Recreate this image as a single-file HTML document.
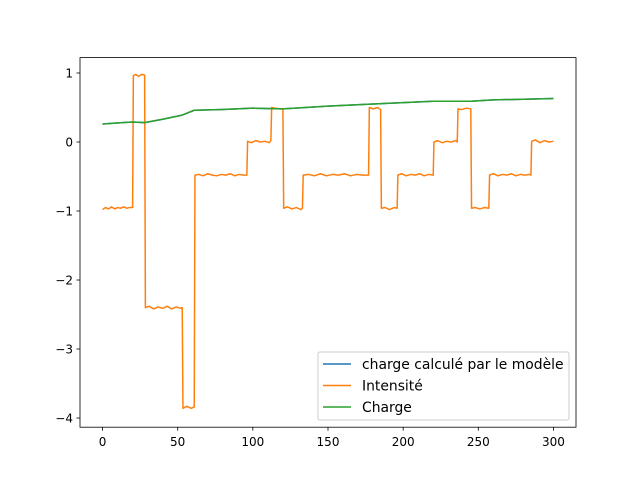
<!DOCTYPE html>
<html><head><meta charset="utf-8"><style>
html,body{margin:0;padding:0;background:#fff}
svg{display:block;font-family:"DejaVu Sans","Liberation Sans",sans-serif}
</style></head><body>
<svg id="chart" width="640" height="480">
<rect x="0" y="0" width="640" height="480" fill="#fff"/>
<g id="plot"></g>
</svg>
<script>
const intensityX = [0,2,4,6,8,10,12,14,16,18,20,20.5,22,24,26,28,28.5,31,34,37,40,43,46,49,52,53,53.5,56,59,61,61.5,64,67,70,73,76,79,82,85,88,91,94,96,96.5,99,102,105,108,111,112,112.5,115,118,120,120.5,123,126,129,132,133,133.5,137,141,145,149,153,157,161,165,169,173,177,177.5,180,183,185,185.5,188,191,194,196,196.5,199,202,205,208,211,214,217,220,220.5,223,226,229,232,235,236,236.5,239,242,245,245.5,248,251,254,257,257.5,260,263,266,269,272,275,278,281,284,285,285.5,288,291,294,297,300];
const intensityY = [-0.98,-0.95,-0.97,-0.94,-0.97,-0.95,-0.96,-0.94,-0.96,-0.95,-0.95,0.96,0.98,0.95,0.98,0.97,-2.4,-2.38,-2.42,-2.39,-2.41,-2.38,-2.42,-2.39,-2.41,-2.4,-3.86,-3.83,-3.86,-3.84,-0.48,-0.47,-0.49,-0.46,-0.48,-0.49,-0.47,-0.48,-0.46,-0.49,-0.47,-0.48,-0.48,0.01,-0.01,0.02,0.0,0.01,-0.01,0.02,0.5,0.49,0.48,0.48,-0.96,-0.94,-0.97,-0.95,-0.98,-0.96,-0.48,-0.47,-0.49,-0.46,-0.49,-0.47,-0.48,-0.46,-0.49,-0.47,-0.48,-0.48,0.5,0.48,0.5,0.47,-0.96,-0.95,-0.98,-0.95,-0.96,-0.48,-0.46,-0.49,-0.47,-0.48,-0.46,-0.49,-0.47,-0.48,0.0,0.02,-0.01,0.01,0.0,0.02,0.0,0.48,0.47,0.49,0.48,-0.96,-0.95,-0.97,-0.95,-0.96,-0.48,-0.46,-0.49,-0.47,-0.48,-0.46,-0.49,-0.47,-0.48,-0.47,-0.48,0.01,0.03,-0.01,0.02,0.0,0.01];
const chargeX = [0,20,28,40,53,61,80,100,120,150,180,200,220,245,260,280,300];
const chargeY = [0.26,0.29,0.28,0.33,0.39,0.46,0.47,0.49,0.48,0.52,0.55,0.57,0.59,0.59,0.61,0.62,0.63];
const xTicks = [0,50,100,150,200,250,300];
const yTicks = [1,0,-1,-2,-3,-4];
const yTickLabels = ["1","0","\u22121","\u22122","\u22123","\u22124"];
const legendLabels = ["charge calculé par le modèle","Intensité","Charge"];
const legendColors = ["#1f77b4","#ff7f0e","#2ca02c"];

const L=80,R=576,T=57.6,B=427.2;
const xMin=-15,xMax=315,yMin=-4.133,yMax=1.223;
const sx=v=>L+(v-xMin)/(xMax-xMin)*(R-L);
const sy=v=>B-(v-yMin)/(yMax-yMin)*(B-T);
const NS="http://www.w3.org/2000/svg";
const g=document.getElementById('plot');
function mk(t,a,txt){const e=document.createElementNS(NS,t);for(const k in a)e.setAttribute(k,a[k]);if(txt!==undefined)e.textContent=txt;g.appendChild(e);return e;}
function line(xs,ys,c,name){
  const d=xs.map((x,i)=>(i?'L':'M')+sx(x).toFixed(2)+','+sy(ys[i]).toFixed(2)).join('');
  const p=mk('path',{d:d,fill:'none',stroke:c,'stroke-width':1.5,'stroke-linejoin':'round'});
  
  
}
line(chargeX,chargeY,legendColors[0],'model-charge-line');
line(intensityX,intensityY,legendColors[1],'intensity-line');
line(chargeX,chargeY,legendColors[2],'charge-line');
const fr=mk('rect',{x:L,y:T,width:R-L,height:B-T,fill:'none',stroke:'#000','stroke-width':0.8});


xTicks.forEach(v=>{
  const x=sx(v);
  const t=mk('line',{x1:x,x2:x,y1:B,y2:B+3.5,stroke:'#000','stroke-width':0.8});
  
  
  const l=mk('text',{x:x,y:B+19,'text-anchor':'middle','font-size':12},String(v));
  
  
});
yTicks.forEach((v,i)=>{
  const y=sy(v);
  const t=mk('line',{x1:L-3.5,x2:L,y1:y,y2:y,stroke:'#000','stroke-width':0.8});
  
  
  const l=mk('text',{x:L-7,y:y+4.3,'text-anchor':'end','font-size':12},yTickLabels[i]);
  
  
});
const lb=mk('rect',{x:318,y:352,width:251,height:68,rx:2,fill:'#fff','fill-opacity':0.8,stroke:'#ccc','stroke-width':1});


legendLabels.forEach((s,i)=>{
  const y=364+i*21.5;
  const ln=mk('line',{x1:323,x2:351,y1:y,y2:y,stroke:legendColors[i],'stroke-width':1.5});
  
  
  const tx=mk('text',{x:362,y:y+4.8,'font-size':13.9},s);
  
  
});
</script>
</body></html>
